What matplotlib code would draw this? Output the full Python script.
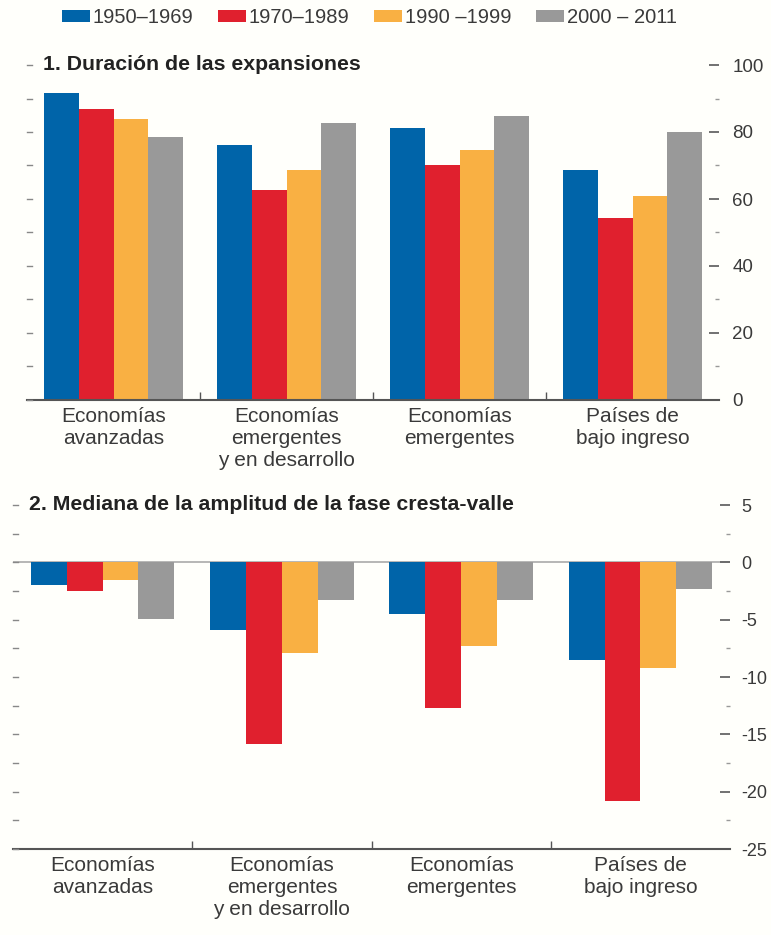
import matplotlib
matplotlib.use("Agg")
from matplotlib import pyplot as plt
from matplotlib.patches import Patch
import numpy as np

plt.rcParams["font.family"] = ["Liberation Sans", "DejaVu Sans"]
plt.rcParams["axes.unicode_minus"] = False

# datos
categorias = ["Economías\navanzadas", "Economías\nemergentes\ny en desarrollo",
              "Economías\nemergentes", "Países de\nbajo ingreso"]
periodos = ["1950–1969", "1970–1989", "1990 –1999", "2000 – 2011"]
colores = ["#0064A9", "#E0202E", "#F9B043", "#999999"]

# 1. Duración de las expansiones
duracion = [
    [91.5, 76.0, 81.3, 68.6],   # 1950-1969
    [86.8, 62.7, 70.1, 54.2],   # 1970-1989
    [83.8, 68.8, 74.5, 61.0],   # 1990-1999
    [78.4, 82.8, 84.9, 80.0],   # 2000-2011
]
# 2. Mediana de la amplitud de la fase cresta-valle
amplitud = [
    [-2.0, -5.9, -4.5, -8.5],
    [-2.5, -15.8, -12.7, -20.8],
    [-1.5, -7.9, -7.3, -9.2],
    [-4.9, -3.3, -3.3, -2.3],
]

txt = "#3a3a3a"
fig = plt.figure(figsize=(7.71, 9.35), dpi=100)
fig.patch.set_facecolor("#fffffb")

# posiciones en pixeles medidas del original
ax1 = fig.add_axes([27 / 771, 1 - 400 / 935, 692 / 771, 335 / 935])
ax2 = fig.add_axes([13 / 771, 1 - 849 / 935, 717 / 771, 344 / 935])

x = np.arange(len(categorias))
w = 0.2

def armar(ax, datos, ymin, ymax, mayor, menor, titulo, tam, sep):
    ax.set_facecolor("none")
    for i in range(len(periodos)):
        ax.bar(x + (i - 1.5) * w, datos[i], width=w, color=colores[i], zorder=2)
    ax.set_xlim(-0.5, 3.5)
    ax.set_ylim(ymin, ymax)
    for s in ["top", "left", "right"]:
        ax.spines[s].set_visible(False)
    ax.spines["bottom"].set_color("#555555")
    ax.spines["bottom"].set_linewidth(1.5)
    # separadores entre grupos
    ax.set_xticks([0.5, 1.5, 2.5])
    ax.set_xticklabels([])
    ax.tick_params(axis="x", which="major", direction="in", length=6, color="#555555", width=1)
    ax.set_xticks(x, minor=True)
    ax.set_xticklabels(categorias, minor=True, fontsize=15, color=txt, linespacing=1.2)
    ax.tick_params(axis="x", which="minor", length=0, pad=5)
    # eje derecho con etiquetas
    ax.yaxis.tick_right()
    ax.set_yticks(np.arange(ymin, ymax + 0.1, mayor))
    ax.set_yticks(np.arange(ymin, ymax + 0.1, menor), minor=True)
    ax.tick_params(axis="y", which="major", direction="in", length=7, width=1.3,
                   color="#666666", labelsize=tam, labelcolor=txt, pad=sep)
    ax.tick_params(axis="y", which="minor", direction="in", length=3, width=1, color="#999999")
    # marcas del lado izquierdo
    for v in np.arange(ymin, ymax + 0.1, menor):
        ax.plot([0, 0.007], [v, v], color="#888888", lw=1, clip_on=False, zorder=3,
                transform=ax.get_yaxis_transform())
    ax.text(-0.41, ymax, titulo, fontsize=15.3, fontweight="bold", color="#222222",
            va="center", ha="left")

armar(ax1, duracion, 0, 100, 20, 10, "1. Duración de las expansiones", 13.5, 9.5)
armar(ax2, amplitud, -25, 5, 5, 2.5, "2. Mediana de la amplitud de la fase cresta-valle", 13, 8)
ax2.axhline(0, color="#aaaaaa", lw=1.2, zorder=1)
ax2.set_yticklabels([str(int(v)) for v in np.arange(-25, 6, 5)])

handles = [Patch(facecolor=c, label=p) for c, p in zip(colores, periodos)]
leg = fig.legend(handles=handles, loc="center", bbox_to_anchor=(0.479, 0.981), ncol=4,
                 frameon=False, fontsize=14.5, handlelength=1.4, handleheight=0.5,
                 handletextpad=0.15, columnspacing=1.2)
for t in leg.get_texts():
    t.set_color(txt)

plt.savefig("out.png", dpi=100, facecolor=fig.get_facecolor())
